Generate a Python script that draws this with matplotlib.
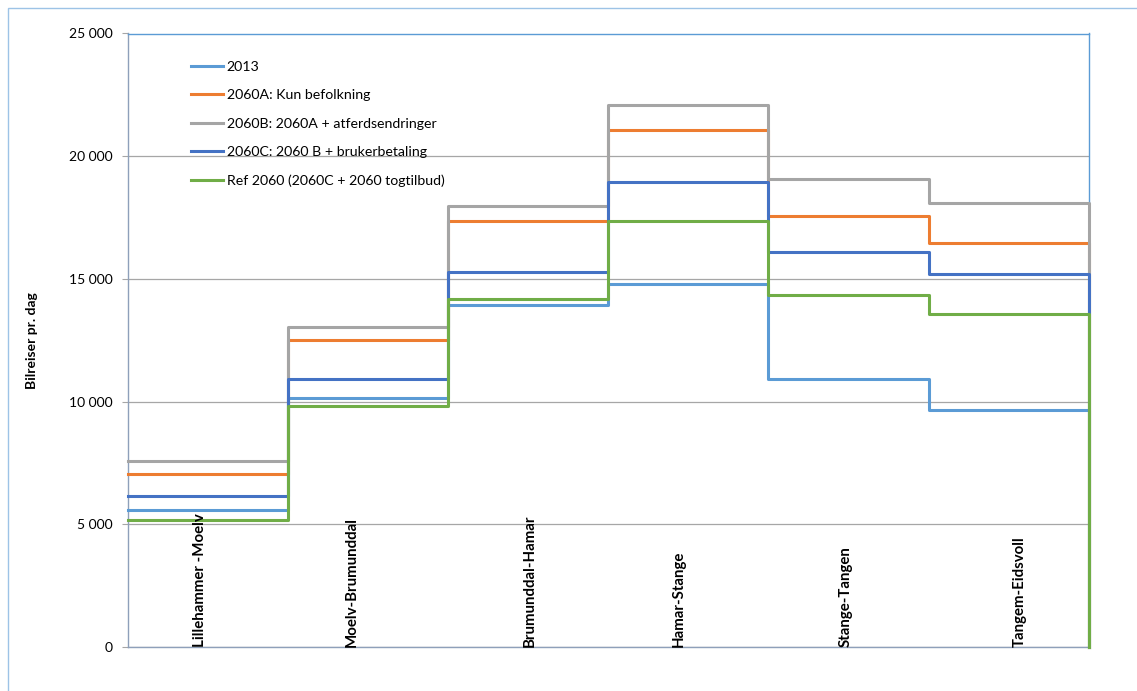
import numpy as np
import matplotlib.pyplot as plt
from matplotlib.patches import Rectangle
from matplotlib.ticker import FuncFormatter

plt.rcParams["font.family"] = ["Lato", "DejaVu Sans"]

# Strekninger og bilreiser pr. dag
strekninger = ["Lillehammer -Moelv", "Moelv-Brumunddal", "Brumunddal-Hamar",
               "Hamar-Stange", "Stange-Tangen", "Tangem-Eidsvoll"]
v2013 = [5580, 10130, 13930, 14790, 10920, 9640]
v2060A = [7050, 12520, 17360, 21080, 17580, 16460]
v2060B = [7570, 13060, 17990, 22100, 19060, 18090]
v2060C = [6170, 10940, 15280, 18940, 16080, 15220]
vRef = [5190, 9820, 14190, 17360, 14340, 13580]

serier = [
    ("2013", v2013, "#5B9BD5"),
    ("2060A: Kun befolkning", v2060A, "#ED7D31"),
    ("2060B: 2060A + atferdsendringer", v2060B, "#A5A5A5"),
    ("2060C: 2060 B + brukerbetaling", v2060C, "#4472C4"),
    ("Ref 2060 (2060C + 2060 togtilbud)", vRef, "#70AD47"),
]

# plassering av etikettene langs strekningene
etikett_x = [0.45, 1.40, 2.51, 3.44, 4.48, 5.57]

fig = plt.figure(figsize=(11.37, 6.91), dpi=100)
fig.patches.append(Rectangle((8 / 1137, -0.1), 1.2, 1.1 - 8 / 691,
                             transform=fig.transFigure, fill=False,
                             edgecolor="#9DC3E6", lw=1.0))
ax = fig.add_axes([128 / 1137, 1 - 647 / 691, 960.7 / 1137, 613.5 / 691])

kanter = np.arange(len(strekninger) + 1)
for navn, verdier, farge in serier:
    x = np.r_[kanter, kanter[-1]]
    y = np.r_[verdier, verdier[-1], 0]
    ax.step(x, y, where="post", color=farge, lw=2.2, label=navn,
            clip_on=False, zorder=3)

for xp, tekst in zip(etikett_x, strekninger):
    ax.text(xp, 0, tekst, rotation=90, ha="center", va="bottom",
            fontsize=10.8, fontweight="bold", zorder=4)

ax.set_xlim(0, 6)
ax.set_ylim(0, 25000)
ax.set_yticks(np.arange(0, 25001, 5000))
ax.yaxis.set_major_formatter(FuncFormatter(lambda v, p: f"{int(v):,}".replace(",", " ")))
ax.set_xticks([])
ax.grid(axis="y", color="#A6A6A6", lw=0.9)
ax.set_axisbelow(True)
ax.tick_params(axis="y", length=4, color="#A6A6A6", labelsize=10, pad=7)

for side in ["left", "bottom"]:
    ax.spines[side].set_color("#8EA0BA")
for side in ["top", "right"]:
    ax.spines[side].set_color("#5B9BD5")
for s in ax.spines.values():
    s.set_linewidth(1.0)

ax.set_ylabel("Bilreiser pr. dag", fontsize=10, fontweight="bold", labelpad=22)

ax.legend(loc="upper left", bbox_to_anchor=(0.052, 0.976), frameon=False,
          fontsize=10.2, handlelength=2.3, handletextpad=0.25, labelspacing=1.15)

fig.savefig("out.png", dpi=100)
